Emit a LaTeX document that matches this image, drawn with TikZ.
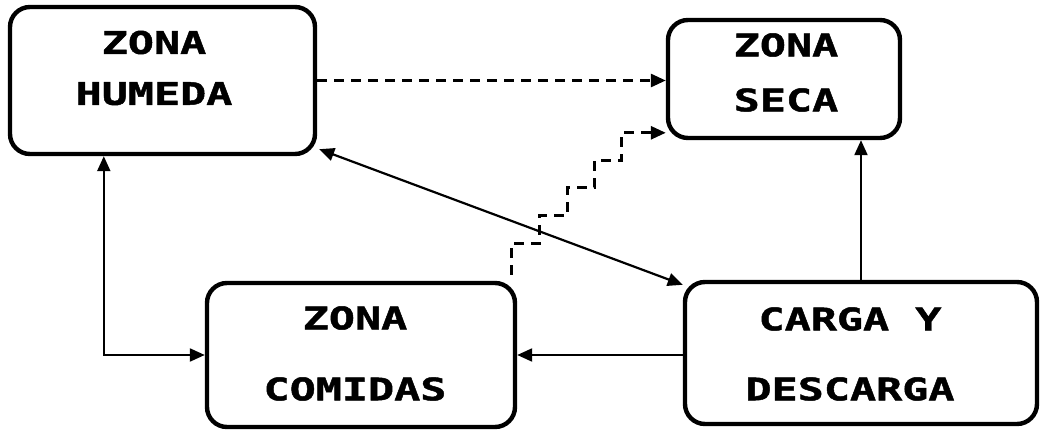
\documentclass[tikz,border=0pt]{standalone}
\usepackage{fontspec}
\usepackage{tikz}
\usetikzlibrary{arrows.meta}
\newfontfamily\cajafont[FakeStretch=1.4,FakeBold=1.5]{DejaVu Sans Mono}

\begin{document}
\begin{tikzpicture}[x=0.5pt,y=-0.5pt,
	zona/.style={draw, line width=2.2pt, rounded corners=10pt},
	rotulo/.style={align=center, inner sep=0pt, font=\cajafont\bfseries\fontsize{15.5pt}{25pt}\selectfont},
	flecha/.style={line width=1.1pt, -{Triangle[length=7.5pt,width=6.5pt]}},
	dflecha/.style={line width=1.1pt, {Triangle[length=7.5pt,width=6.5pt]}-{Triangle[length=7.5pt,width=6.5pt]}},
	punteada/.style={flecha, line width=1.4pt, dash pattern=on 5pt off 3.5pt}]
	\useasboundingbox (0,0) rectangle (1041,433);
	% cajas
	\node [zona, minimum width=152.5pt, minimum height=73.5pt] (humeda) at (162.5,80.5) {};
	\node [zona, minimum width=116pt, minimum height=59pt] (seca) at (784,79) {};
	\node [zona, minimum width=154pt, minimum height=72pt] (comidas) at (361,355) {};
	\node [zona, minimum width=176pt, minimum height=71pt] (carga) at (861,353) {};
	% textos
	\node [rotulo] (humedaTxt) at (154,68) {ZONA\\[0.5pt]HUMEDA};
	\node [rotulo] (secaTxt) at (786,72.5) {ZONA\\[2.5pt]SECA};
	\node [rotulo] (comidasTxt) at (355,353.5) {ZONA\\[10.5pt]COMIDAS};
	\node [rotulo] (cargaTxt) at (850,354) {CARGA Y\\[10pt]DESCARGA};
	% flechas
	\draw [punteada] (humeda.east) -- (humeda.east -| seca.west);
	\draw [punteada] ([xshift=-3pt,yshift=3pt]comidas.north east) -- ++(0,-31) -- ++(28,0)
		-- ++(0,-28) -- ++(28,0) -- ++(0,-28) -- ++(27,0) -- ++(0,-27) -- ++(27,0)
		-- ++(0,-28) coordinate (escalon) -- (escalon -| seca.west);
	\draw [dflecha] ([xshift=1pt,yshift=3.5pt]humeda.south east) -- ([yshift=-2.5pt]carga.north west);
	\draw [dflecha] ([xshift=48pt]humeda.south west) |- (comidas.west);
	\draw [flecha] (comidas.east -| carga.west) -- (comidas.east);
	\draw [flecha] (carga.north) -- (carga.north |- seca.south);
\end{tikzpicture}
\end{document}
